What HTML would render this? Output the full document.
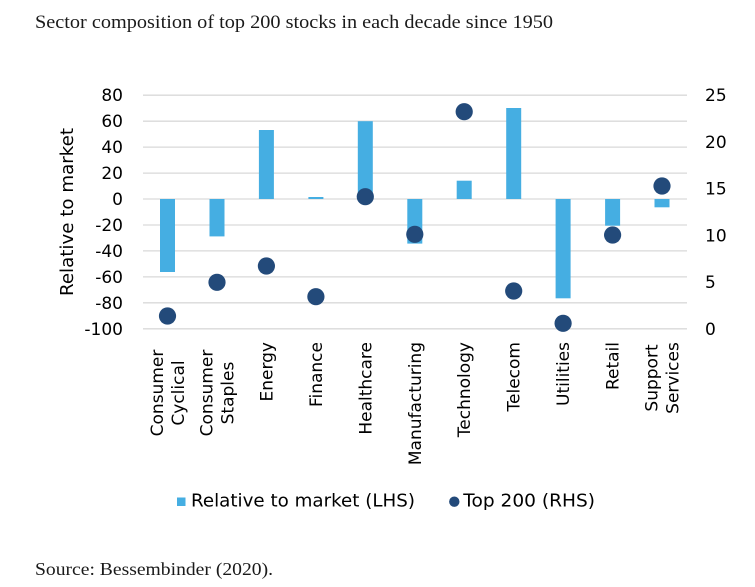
<!DOCTYPE html>
<html>
<head>
<meta charset="utf-8">
<style>
html,body{margin:0;padding:0;background:#fff;}
svg{display:block;}
.t{font-family:"DejaVu Sans","Liberation Sans",sans-serif;fill:#000;}
.s{font-family:"Liberation Serif",serif;fill:#1a1a1a;}
</style>
</head>
<body>
<svg width="755" height="587" viewBox="0 0 755 587" xmlns="http://www.w3.org/2000/svg">
<rect width="755" height="587" fill="#fff"/>
<text class="s" x="35" y="28" font-size="19" textLength="518" lengthAdjust="spacingAndGlyphs">Sector composition of top 200 stocks in each decade since 1950</text>

<!-- gridlines -->
<g stroke="#d9d9d9" stroke-width="1.3">
<line x1="143" y1="95.2" x2="687" y2="95.2"/>
<line x1="143" y1="121.2" x2="687" y2="121.2"/>
<line x1="143" y1="147.1" x2="687" y2="147.1"/>
<line x1="143" y1="173.1" x2="687" y2="173.1"/>
<line x1="143" y1="199" x2="687" y2="199"/>
<line x1="143" y1="225" x2="687" y2="225"/>
<line x1="143" y1="250.9" x2="687" y2="250.9"/>
<line x1="143" y1="276.9" x2="687" y2="276.9"/>
<line x1="143" y1="302.8" x2="687" y2="302.8"/>
<line x1="143" y1="328.8" x2="687" y2="328.8"/>
</g>

<!-- left ticks -->
<g class="t" font-size="17" text-anchor="end">
<text x="123" y="101.2">80</text>
<text x="123" y="127.2">60</text>
<text x="123" y="153.1">40</text>
<text x="123" y="179.1">20</text>
<text x="123" y="205">0</text>
<text x="123" y="231">-20</text>
<text x="123" y="256.9">-40</text>
<text x="123" y="282.9">-60</text>
<text x="123" y="308.8">-80</text>
<text x="123" y="334.8">-100</text>
</g>
<!-- right ticks -->
<g class="t" font-size="17">
<text x="705" y="101.2">25</text>
<text x="705" y="147.9">20</text>
<text x="705" y="194.6">15</text>
<text x="705" y="241.3">10</text>
<text x="705" y="288">5</text>
<text x="705" y="334.8">0</text>
</g>

<text class="t" font-size="18" text-anchor="middle" transform="translate(73,212) rotate(-90)" textLength="168" lengthAdjust="spacingAndGlyphs">Relative to market</text>

<!-- bars -->
<g fill="#45aee2">
<rect x="160" y="199" width="15" height="73"/>
<rect x="209.5" y="199" width="15" height="37.4"/>
<rect x="258.9" y="130" width="15" height="69"/>
<rect x="308.4" y="197" width="15" height="2"/>
<rect x="357.8" y="121.2" width="15" height="77.8"/>
<rect x="407.3" y="199" width="15" height="44.6"/>
<rect x="456.7" y="180.7" width="15" height="18.3"/>
<rect x="506.2" y="108" width="15" height="91"/>
<rect x="555.6" y="199" width="15" height="99.3"/>
<rect x="605.1" y="199" width="15" height="26.7"/>
<rect x="654.5" y="199" width="15" height="8.3"/>
</g>

<!-- dots -->
<g fill="#234a7a">
<circle cx="167.5" cy="316" r="8.6"/>
<circle cx="217" cy="282.3" r="8.6"/>
<circle cx="266.4" cy="266" r="8.6"/>
<circle cx="315.9" cy="296.7" r="8.6"/>
<circle cx="365.3" cy="196.7" r="8.6"/>
<circle cx="414.8" cy="234.3" r="8.6"/>
<circle cx="464.2" cy="111.7" r="8.6"/>
<circle cx="513.7" cy="291" r="8.6"/>
<circle cx="563.1" cy="323.3" r="8.6"/>
<circle cx="612.6" cy="235" r="8.6"/>
<circle cx="662" cy="186" r="8.6"/>
</g>

<!-- category labels -->
<g class="t" font-size="17">
<text text-anchor="middle" transform="translate(163,393) rotate(-90)">Consumer</text>
<text text-anchor="middle" transform="translate(184,393) rotate(-90)">Cyclical</text>
<text text-anchor="middle" transform="translate(212.5,393) rotate(-90)">Consumer</text>
<text text-anchor="middle" transform="translate(233.5,393) rotate(-90)">Staples</text>
<text text-anchor="end" transform="translate(272.4,342) rotate(-90)">Energy</text>
<text text-anchor="end" transform="translate(321.9,342) rotate(-90)">Finance</text>
<text text-anchor="end" transform="translate(371.3,342) rotate(-90)">Healthcare</text>
<text text-anchor="end" transform="translate(420.8,342) rotate(-90)">Manufacturing</text>
<text text-anchor="end" transform="translate(470.2,342) rotate(-90)">Technology</text>
<text text-anchor="end" transform="translate(519.7,342) rotate(-90)">Telecom</text>
<text text-anchor="end" transform="translate(569.1,342) rotate(-90)">Utilities</text>
<text text-anchor="end" transform="translate(618.6,342) rotate(-90)">Retail</text>
<text text-anchor="middle" transform="translate(657.5,378) rotate(-90)">Support</text>
<text text-anchor="middle" transform="translate(678.5,378) rotate(-90)">Services</text>
</g>

<!-- legend -->
<rect x="177" y="497.5" width="8.5" height="8.5" fill="#45aee2"/>
<text class="t" x="191" y="506.5" font-size="18" textLength="224" lengthAdjust="spacingAndGlyphs">Relative to market (LHS)</text>
<circle cx="454.3" cy="501.7" r="5.2" fill="#234a7a"/>
<text class="t" x="463.3" y="506.5" font-size="18" textLength="131.7" lengthAdjust="spacingAndGlyphs">Top 200 (RHS)</text>

<text class="s" x="35" y="575" font-size="18" textLength="238" lengthAdjust="spacingAndGlyphs">Source: Bessembinder (2020).</text>
</svg>
</body>
</html>
